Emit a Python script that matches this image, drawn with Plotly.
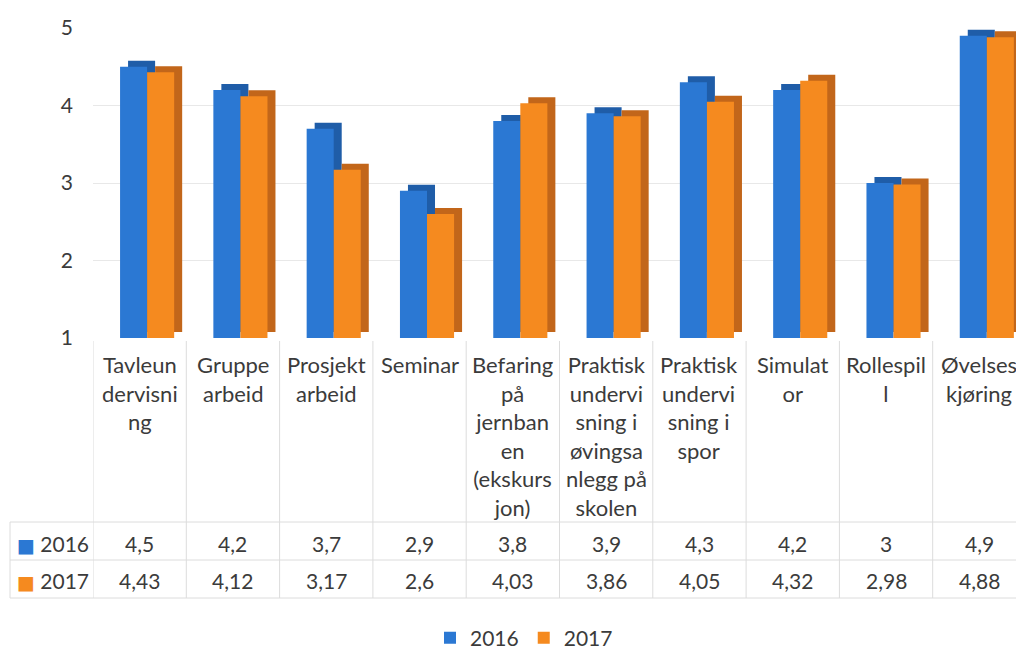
import plotly.graph_objects as go

# ---------------- data ----------------
categories = [
    "Tavleun<br>dervisni<br>ng",
    "Gruppe<br>arbeid",
    "Prosjekt<br>arbeid",
    "Seminar",
    "Befaring<br>på<br>jernban<br>en<br>(ekskurs<br>jon)",
    "Praktisk<br>undervi<br>sning i<br>øvingsa<br>nlegg på<br>skolen",
    "Praktisk<br>undervi<br>sning i<br>spor",
    "Simulat<br>or",
    "Rollespil<br>l",
    "Øvelses<br>kjøring",
]
values_2016 = [4.5, 4.2, 3.7, 2.9, 3.8, 3.9, 4.3, 4.2, 3.0, 4.9]
values_2017 = [4.43, 4.12, 3.17, 2.6, 4.03, 3.86, 4.05, 4.32, 2.98, 4.88]
series_names = ["2016", "2017"]
y_ticks = [1, 2, 3, 4, 5]

# ---------------- styling ----------------
PAGE = 8                                   # browser body margin
W, H = 1024 - PAGE, 649 - PAGE
# plot area, in reference-image pixels
R_PL, R_PR, R_PT, R_PB = 93, 1024, 28, 338
PL, PR, PT, PB = R_PL - PAGE, R_PR - PAGE, R_PT - PAGE, R_PB - PAGE
CAT_PX = 93.3                              # pixel width of a category
FONT = "Lato"
TXT = "#3b3b3b"
GRID = "#e8e8e8"
TABLE = "#dcdcdc"
front_cols = ["#2b78d3", "#f58a1f"]
side_cols = ["#1f5da8", "#c2661a"]
offsets = [-0.21, 0.08]
bar_w = 0.29
depth_x = 8 / CAT_PX
depth_y = 6 / ((PB - PT) / (y_ticks[-1] - y_ticks[0]))

n = len(categories)
xs = list(range(n))
series = [values_2016, values_2017]
base_val = y_ticks[0]


def py_paper(ref_py):
    return (R_PB - ref_py) / (R_PB - R_PT)


def px_paper(ref_px):
    return (ref_px - R_PL) / (R_PR - R_PL)


fig = go.Figure()
for name, vals, fc, sc, off in zip(series_names, series, front_cols, side_cols, offsets):
    # darker depth face (fake 3D)
    fig.add_trace(go.Bar(
        x=xs, y=[v - base_val for v in vals], base=[base_val + depth_y] * n,
        offset=off + depth_x, width=bar_w, marker=dict(color=sc, line=dict(width=0)),
        showlegend=False, hoverinfo="skip"))
    # front face
    fig.add_trace(go.Bar(
        x=xs, y=[v - base_val for v in vals], base=[base_val] * n,
        offset=off, width=bar_w, name=name,
        marker=dict(color=fc, line=dict(width=0))))

annotations = []
shapes = []

# category labels
for i, c in enumerate(categories):
    annotations.append(dict(
        x=i, xref="x", y=py_paper(349), yref="paper", yanchor="top",
        text=c, showarrow=False, align="center",
        font=dict(family=FONT, size=22, color=TXT)))

# table rows
row_y = [543, 580]
for name, vals, fc, ry in zip(series_names, series, front_cols, row_y):
    annotations.append(dict(
        x=px_paper(15), xref="paper", xanchor="left",
        y=py_paper(ry), yref="paper", yanchor="middle",
        text=f"<span style='color:{fc};font-family:DejaVu Sans;font-size:19px'>■</span> {name}",
        showarrow=False, font=dict(family=FONT, size=21, color=TXT)))
    for i, v in enumerate(vals):
        annotations.append(dict(
            x=i, xref="x", y=py_paper(ry), yref="paper", yanchor="middle",
            text=f"{v:g}".replace(".", ","), showarrow=False,
            font=dict(family=FONT, size=21, color=TXT)))

# table grid lines
for k in range(n):
    shapes.append(dict(type="line", xref="x", yref="paper",
                       x0=k - 0.5, x1=k - 0.5, y0=py_paper(341), y1=py_paper(598),
                       line=dict(color=TABLE, width=1)))
shapes.append(dict(type="line", xref="paper", yref="paper",
                   x0=px_paper(10), x1=px_paper(10), y0=py_paper(522), y1=py_paper(598),
                   line=dict(color=TABLE, width=1)))
for hy in [522, 560, 598]:
    shapes.append(dict(type="line", xref="paper", yref="paper",
                       x0=px_paper(10), x1=1, y0=py_paper(hy), y1=py_paper(hy),
                       line=dict(color=TABLE, width=1)))

fig.update_layout(
    width=W, height=H,
    margin=dict(l=PL, r=W - PR, t=PT, b=H - PB, pad=0, autoexpand=False),
    paper_bgcolor="white", plot_bgcolor="white",
    barmode="overlay",
    font=dict(family=FONT, color=TXT),
    xaxis=dict(range=[-0.5, -0.5 + (PR - PL) / CAT_PX], showticklabels=False,
               showgrid=False, zeroline=False, showline=False, fixedrange=True),
    yaxis=dict(range=[y_ticks[0], y_ticks[-1]], tickvals=y_ticks,
               tickfont=dict(family=FONT, size=21, color=TXT),
               showgrid=True, gridcolor=GRID, gridwidth=1, zeroline=False,
               showline=False, ticklabelstandoff=19),
    legend=dict(orientation="h", xref="container", yref="container",
                x=(524 - PAGE) / W, xanchor="center",
                y=1 - (638 - PAGE) / H, yanchor="middle",
                font=dict(family=FONT, size=21, color=TXT),
                itemwidth=30, tracegroupgap=0),
    annotations=annotations, shapes=shapes,
)

fig.write_html("out.html")
